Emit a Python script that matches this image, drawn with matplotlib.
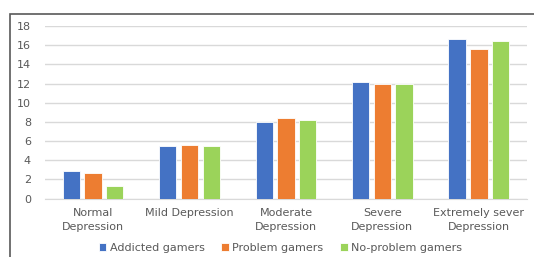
import matplotlib.pyplot as plt
import numpy as np
from matplotlib.patches import Rectangle

# Data
categories = ["Normal\nDepression", "Mild Depression", "Moderate\nDepression",
              "Severe\nDepression", "Extremely sever\nDepression"]
addicted = [2.9, 5.5, 8.0, 12.2, 16.6]
problem = [2.7, 5.6, 8.4, 12.0, 15.6]
no_problem = [1.35, 5.45, 8.2, 12.0, 16.4]
series_names = ["Addicted gamers", "Problem gamers", "No-problem gamers"]
colors = ["#4472C4", "#ED7D31", "#9BD35A"]

fig = plt.figure(figsize=(5.34, 2.57), dpi=100)
ax = fig.add_axes([0.084, 0.227, 0.903, 0.672])

x = np.arange(len(categories))
width = 0.18
step = 0.225
for i, (vals, name, c) in enumerate(zip([addicted, problem, no_problem], series_names, colors)):
    ax.bar(x + (i - 1) * step, vals, width, color=c, label=name,
           edgecolor="white", linewidth=0.6, zorder=3)

ax.set_xlim(-0.5, len(categories) - 0.5)
ax.set_ylim(0, 18)
ax.set_yticks(range(0, 19, 2))
ax.set_xticks(x)
ax.set_xticklabels(categories, linespacing=1.5)
ax.grid(axis="y", color="#D9D9D9", linewidth=1, zorder=0)
for s in ["top", "right", "left"]:
    ax.spines[s].set_visible(False)
ax.spines["bottom"].set_color("#D9D9D9")
ax.tick_params(length=0, labelsize=8, colors="#595959")
ax.tick_params(axis="x", pad=7)
ax.tick_params(axis="y", pad=10)

fig.legend(loc="center", bbox_to_anchor=(0.525, 0.036), ncol=3, frameon=False,
           fontsize=8, labelcolor="#595959", handlelength=0.7, handleheight=0.7,
           handletextpad=0.3, columnspacing=1.5, borderaxespad=0)

# outer frame of the chart (cropped at right and bottom)
fig.patches.append(Rectangle((10 / 534, -0.1), 1.0, 1 - 14 / 257 + 0.1,
                             transform=fig.transFigure, fill=False,
                             edgecolor="#595959", linewidth=1.2))

fig.savefig("out.png", dpi=100)
